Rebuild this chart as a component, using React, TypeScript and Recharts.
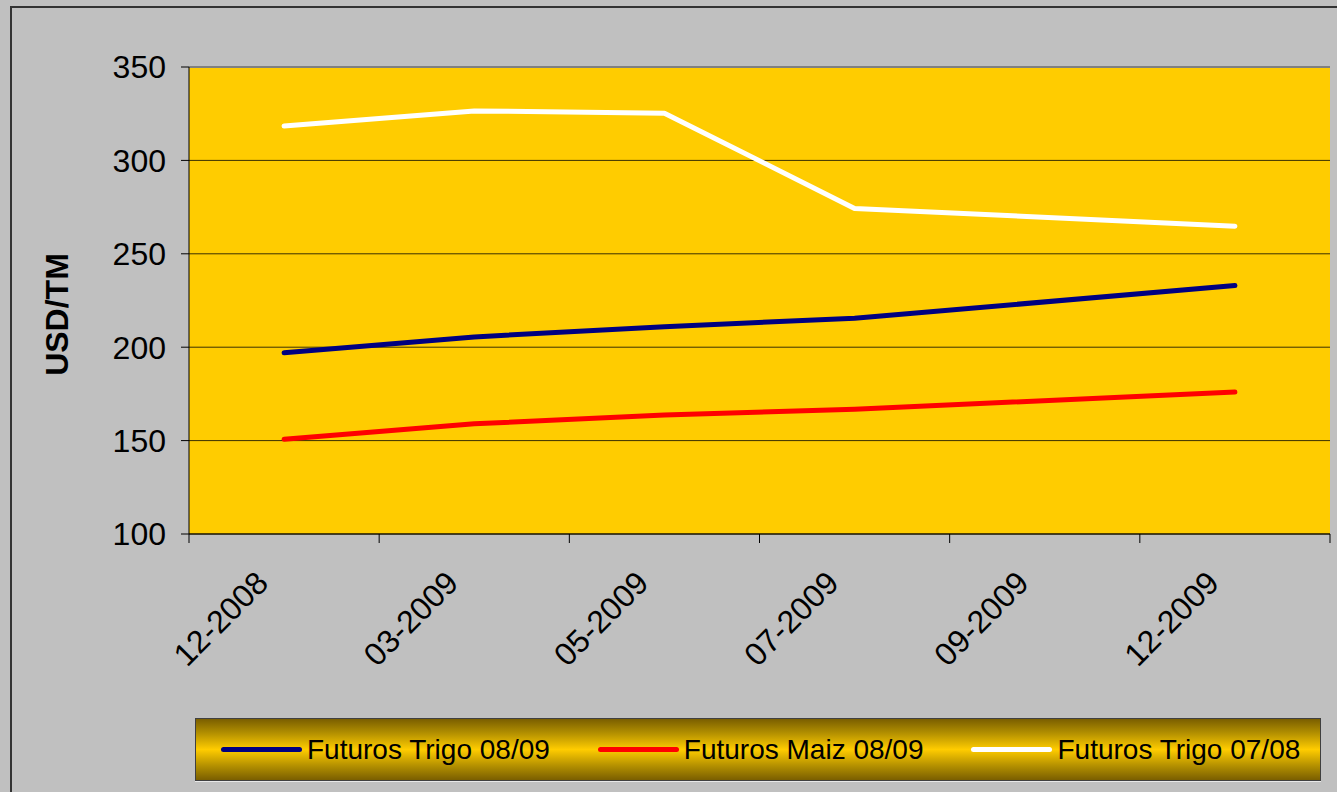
import React from 'react'
import {
  LineChart,
  Line,
  XAxis,
  YAxis,
  CartesianGrid,
  Legend,
  ReferenceLine,
} from 'recharts'

const months = ['12-2008', '03-2009', '05-2009', '07-2009', '09-2009', '12-2009']
// 09-2009 has no quote, the lines just bridge the gap
const trigo0809 = [197, 205.5, 211, 215.5, null, 233]
const maiz0809 = [150.7, 159, 163.7, 166.8, null, 176]
const trigo0708 = [318.4, 326.5, 325.3, 274.3, null, 264.8]
const yTicks = [100, 150, 200, 250, 300, 350]

const series = [
  { key: 'trigo0809', name: 'Futuros Trigo 08/09', color: '#000080' },
  { key: 'maiz0809', name: 'Futuros Maiz 08/09', color: '#FF0000' },
  { key: 'trigo0708', name: 'Futuros Trigo 07/08', color: '#FFFFFF' },
]

const data = months.map((month, i) => ({
  month,
  trigo0809: trigo0809[i],
  maiz0809: maiz0809[i],
  trigo0708: trigo0708[i],
}))

const FONT = '"Liberation Sans", Arial, sans-serif'

const MonthTick = (props: any) => {
  const { x, y, payload, index, visibleTicksCount } = props
  const half = payload?.offset ?? 95
  const top = y - 9
  const ax = x - 22
  const ay = y + 34
  return (
    <g>
      <line x1={x - half} x2={x - half} y1={top} y2={y} stroke="#000" />
      {index === visibleTicksCount - 1 && (
        <line x1={x + half} x2={x + half} y1={top} y2={y} stroke="#000" />
      )}
      <text
        x={ax}
        y={ay}
        dy="0.35em"
        textAnchor="end"
        fontSize={32}
        fontFamily={FONT}
        fill="#000"
        transform={`rotate(-45, ${ax}, ${ay})`}
      >
        {payload.value}
      </text>
    </g>
  )
}

const LegendBox = () => (
  <div
    style={{
      width: 1126,
      height: 63,
      boxSizing: 'border-box',
      border: '1px solid #404040',
      background:
        'linear-gradient(to bottom, #7a5e00 0%, #b08d00 22%, #ffcc00 50%, #b08d00 78%, #7a5e00 100%)',
      display: 'flex',
      alignItems: 'center',
      fontFamily: FONT,
      fontSize: 28,
      color: '#000',
      boxShadow: '0 1px 0 #e8e8e8',
    }}
  >
    {series.map((s, i) => (
      <div
        key={s.key}
        style={{ display: 'flex', alignItems: 'center', marginLeft: i === 0 ? 25 : 48 }}
      >
        <div
          style={{
            width: 81,
            height: 5,
            borderRadius: 3,
            background: s.color,
            marginRight: 5,
          }}
        />
        <span style={{ whiteSpace: 'pre' }}>{s.name}</span>
      </div>
    ))}
  </div>
)

const App: React.FC = () => {
  return (
    <div
      style={{
        position: 'absolute',
        left: 0,
        top: 0,
        width: 1337,
        height: 792,
        overflow: 'hidden',
        background: '#C0C0C0',
      }}
    >
      <div
        style={{
          position: 'absolute',
          left: 10,
          top: 6,
          width: 1345,
          height: 800,
          border: '2px solid #333',
        }}
      />
      <div style={{ position: 'absolute', left: 0, top: 0 }}>
        <LineChart
          width={1337}
          height={792}
          data={data}
          margin={{ top: 67, right: 7, left: 129, bottom: 158 }}
        >
          <CartesianGrid vertical={false} stroke="#3a3000" fill="#FFCC00" fillOpacity={1} />
          <ReferenceLine y={350} stroke="#808080" strokeWidth={2} />
          <XAxis
            dataKey="month"
            scale="band"
            interval={0}
            height={100}
            tickSize={9}
            tickMargin={0}
            tickLine={false}
            axisLine={{ stroke: '#000' }}
            tick={<MonthTick />}
          />
          <YAxis
            domain={[100, 350]}
            ticks={yTicks}
            width={60}
            tickSize={8}
            tickMargin={15}
            axisLine={{ stroke: '#000' }}
            tickLine={{ stroke: '#000' }}
            tick={{ fontSize: 32, fontFamily: FONT, fill: '#000' }}
            label={(p: any) => {
              const vb = p.viewBox
              const cx = vb.x - 72
              const cy = vb.y + vb.height / 2 + 14
              return (
                <text
                  x={cx}
                  y={cy}
                  dy="0.35em"
                  textAnchor="middle"
                  fontSize={32}
                  fontWeight="bold"
                  fontFamily={FONT}
                  fill="#000"
                  transform={`rotate(-90, ${cx}, ${cy})`}
                >
                  USD/TM
                </text>
              )
            }}
          />
          <YAxis
            yAxisId="edge"
            orientation="right"
            width={0}
            tick={false}
            tickLine={false}
            axisLine={{ stroke: '#808080', strokeWidth: 2 }}
          />
          <Legend
            layout="horizontal"
            verticalAlign="middle"
            align="center"
            content={<LegendBox />}
            wrapperStyle={{ left: 195, top: 718, width: 1126, height: 63 }}
          />
          {series.map((s) => (
            <Line
              key={s.key}
              type="linear"
              dataKey={s.key}
              name={s.name}
              stroke={s.color}
              strokeWidth={5}
              strokeLinecap="round"
              strokeLinejoin="round"
              dot={false}
              activeDot={false}
              connectNulls
              isAnimationActive={false}
            />
          ))}
        </LineChart>
      </div>
    </div>
  )
}

export default App
